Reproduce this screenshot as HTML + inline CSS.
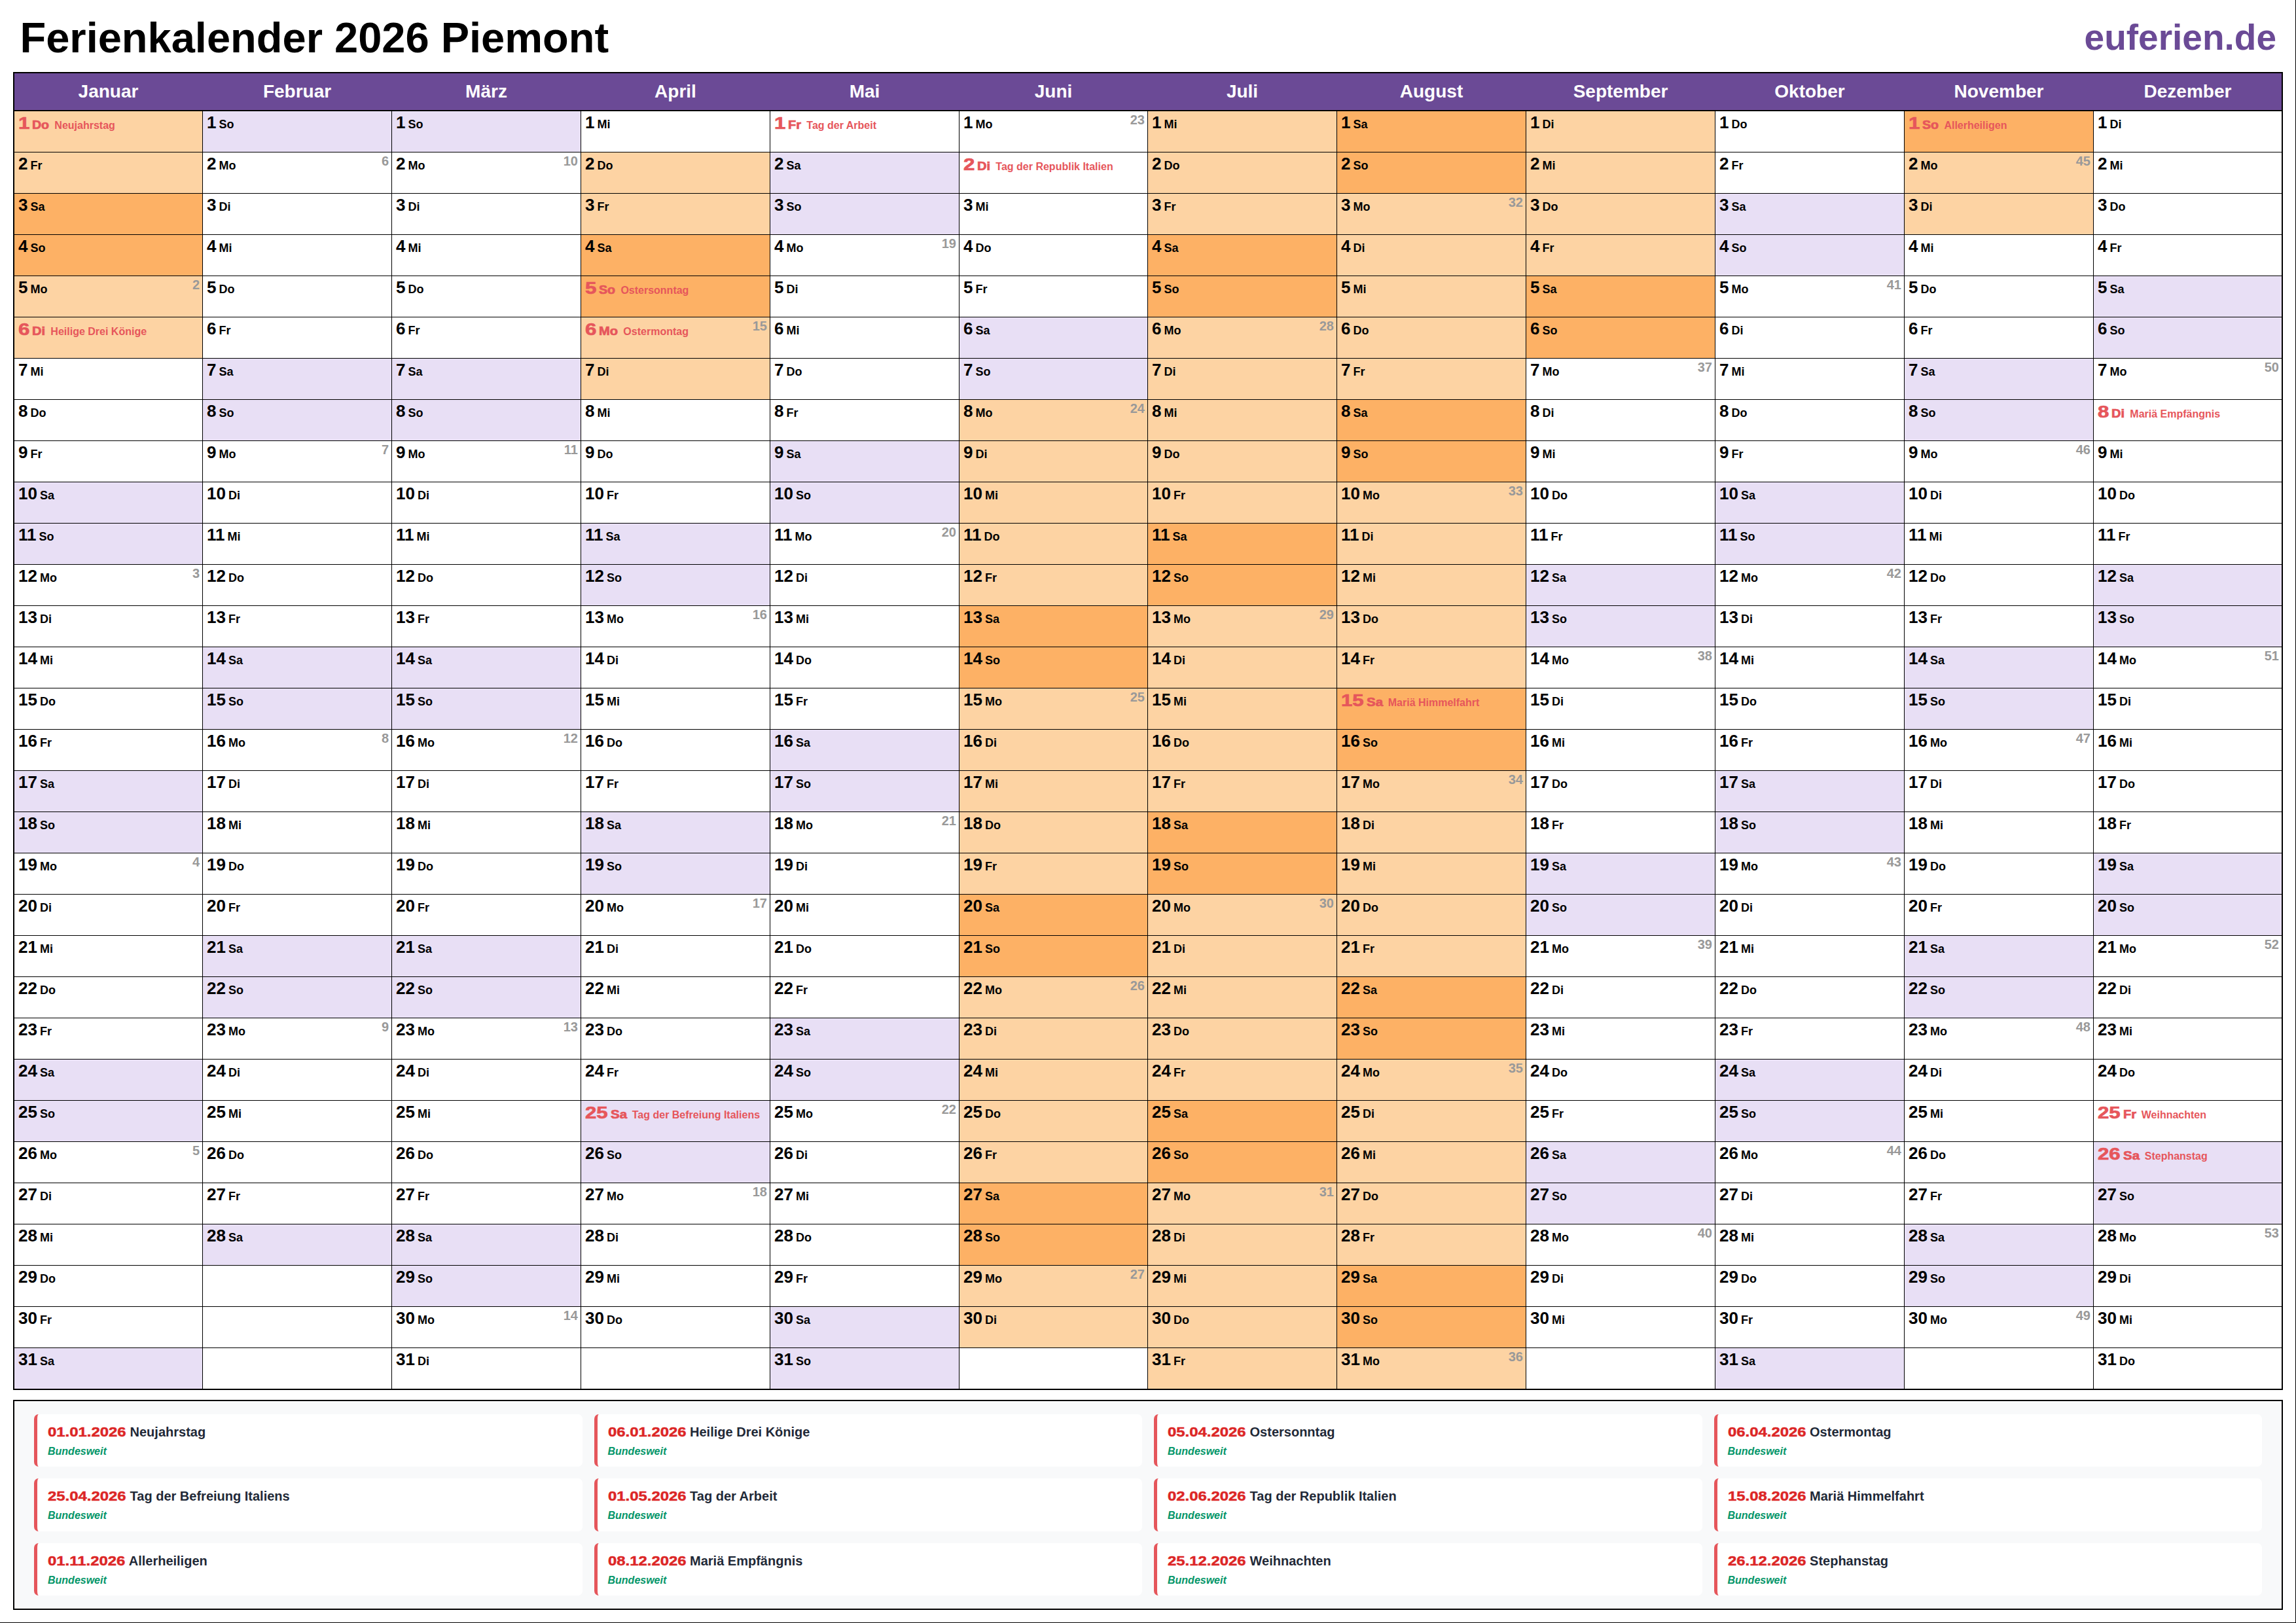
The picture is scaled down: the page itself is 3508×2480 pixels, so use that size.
<!DOCTYPE html><html lang="de"><head><meta charset="utf-8"><title>Ferienkalender 2026 Piemont</title><style>
html,body{margin:0;padding:0;}
body{width:3508px;height:2480px;background:#fff;position:relative;overflow:hidden;font-family:"Liberation Sans",Arial,sans-serif;}
.pb{position:absolute;left:0;top:0;width:3508px;height:2480px;box-sizing:border-box;border-right:1px solid #000;border-bottom:1px solid #000;}
h1{position:absolute;left:30.5px;top:21px;margin:0;font-size:65px;line-height:74px;font-weight:bold;color:#000;white-space:nowrap;}
.brand{position:absolute;right:30px;top:25px;font-size:55px;line-height:64px;font-weight:bold;color:#6b4a96;white-space:nowrap;}
.tbl{position:absolute;left:20px;top:110px;width:3468px;height:2014px;background:#000;}
.hd{position:absolute;left:2px;top:2px;width:3464px;height:56px;background:#6b4a96;box-sizing:border-box;border-bottom:1px solid #7650a0;}
.hd span{position:absolute;top:0;height:56px;line-height:55px;text-align:center;color:#fff;font-weight:bold;font-size:28px;}
.c{position:absolute;height:62px;background:#fff;box-sizing:border-box;padding:2px 0 0 6px;font-size:26px;line-height:30px;font-weight:bold;color:#000;white-space:nowrap;overflow:hidden;}
.c.v{background:#fdd3a3;}
.c.vw{background:#fdb165;}
.c.w{background:#e8dff5;}
.c b{font-size:26px;font-weight:bold;}
.c i{font-style:normal;font-size:18px;margin-left:4px;}
.c u{text-decoration:none;font-size:16px;margin-left:8px;}
.c s{text-decoration:none;position:absolute;right:4px;top:1px;font-size:20px;line-height:24px;font-weight:bold;color:#999;}
.c.h{color:#e6565b;padding-top:3px;}
.c.h b{display:inline-block;transform:scaleX(1.2);transform-origin:0 50%;-webkit-text-stroke:0.7px #e6565b;}
.c.h i{display:inline-block;transform:scaleX(1.1);transform-origin:0 50%;-webkit-text-stroke:0.7px #e6565b;}
.c.h u{margin-left:8px;}
.lg{position:absolute;left:20px;top:2139px;width:3468px;height:321px;box-sizing:border-box;border:2px solid #000;background:#f8f9fa;}
.k{position:absolute;width:837.5px;height:80px;box-sizing:border-box;background:#fff;border-left:5px solid #e5565b;border-radius:7px;padding:11.5px 0 0 16px;white-space:nowrap;}
.k .l1{font-size:20px;line-height:30px;color:#1f2937;font-weight:bold;}
.k .l1 em{display:inline-block;transform:scale(1.195,1.04);transform-origin:0 75%;font-style:normal;font-weight:bold;font-size:20px;color:#dc2626;-webkit-text-stroke:0.45px #dc2626;margin-right:19.9px;}
.k .l2{margin-top:3.5px;font-size:16px;line-height:24px;font-weight:bold;font-style:italic;color:#059669;}
</style></head><body>
<div class="pb"></div>
<h1>Ferienkalender 2026 Piemont</h1><div class="brand">euferien.de</div>
<div class="tbl"><div class="hd">
<span style="left:0px;width:287px">Januar</span>
<span style="left:288px;width:288px">Februar</span>
<span style="left:577px;width:288px">März</span>
<span style="left:866px;width:288px">April</span>
<span style="left:1155px;width:288px">Mai</span>
<span style="left:1444px;width:287px">Juni</span>
<span style="left:1732px;width:288px">Juli</span>
<span style="left:2021px;width:288px">August</span>
<span style="left:2310px;width:288px">September</span>
<span style="left:2599px;width:288px">Oktober</span>
<span style="left:2888px;width:288px">November</span>
<span style="left:3177px;width:287px">Dezember</span>
</div>
<div class="c v h" style="left:2px;top:60px;width:287px"><b style="margin-right:2.9px">1</b><i style="transform:scaleX(1.084);margin-right:2.0px">Do</i><u>Neujahrstag</u></div>
<div class="c v" style="left:2px;top:123px;width:287px"><b>2</b><i>Fr</i></div>
<div class="c vw" style="left:2px;top:186px;width:287px"><b>3</b><i>Sa</i></div>
<div class="c vw" style="left:2px;top:249px;width:287px"><b>4</b><i>So</i></div>
<div class="c v" style="left:2px;top:312px;width:287px"><b>5</b><i>Mo</i><s>2</s></div>
<div class="c v h" style="left:2px;top:375px;width:287px"><b style="margin-right:2.9px">6</b><i style="transform:scaleX(1.111);margin-right:2.0px">Di</i><u>Heilige Drei Könige</u></div>
<div class="c" style="left:2px;top:438px;width:287px"><b>7</b><i>Mi</i></div>
<div class="c" style="left:2px;top:501px;width:287px"><b>8</b><i>Do</i></div>
<div class="c" style="left:2px;top:564px;width:287px"><b>9</b><i>Fr</i></div>
<div class="c w" style="left:2px;top:627px;width:287px"><b>10</b><i>Sa</i></div>
<div class="c w" style="left:2px;top:690px;width:287px"><b>11</b><i>So</i></div>
<div class="c" style="left:2px;top:753px;width:287px"><b>12</b><i>Mo</i><s>3</s></div>
<div class="c" style="left:2px;top:816px;width:287px"><b>13</b><i>Di</i></div>
<div class="c" style="left:2px;top:879px;width:287px"><b>14</b><i>Mi</i></div>
<div class="c" style="left:2px;top:942px;width:287px"><b>15</b><i>Do</i></div>
<div class="c" style="left:2px;top:1005px;width:287px"><b>16</b><i>Fr</i></div>
<div class="c w" style="left:2px;top:1068px;width:287px"><b>17</b><i>Sa</i></div>
<div class="c w" style="left:2px;top:1131px;width:287px"><b>18</b><i>So</i></div>
<div class="c" style="left:2px;top:1194px;width:287px"><b>19</b><i>Mo</i><s>4</s></div>
<div class="c" style="left:2px;top:1257px;width:287px"><b>20</b><i>Di</i></div>
<div class="c" style="left:2px;top:1320px;width:287px"><b>21</b><i>Mi</i></div>
<div class="c" style="left:2px;top:1383px;width:287px"><b>22</b><i>Do</i></div>
<div class="c" style="left:2px;top:1446px;width:287px"><b>23</b><i>Fr</i></div>
<div class="c w" style="left:2px;top:1509px;width:287px"><b>24</b><i>Sa</i></div>
<div class="c w" style="left:2px;top:1572px;width:287px"><b>25</b><i>So</i></div>
<div class="c" style="left:2px;top:1635px;width:287px"><b>26</b><i>Mo</i><s>5</s></div>
<div class="c" style="left:2px;top:1698px;width:287px"><b>27</b><i>Di</i></div>
<div class="c" style="left:2px;top:1761px;width:287px"><b>28</b><i>Mi</i></div>
<div class="c" style="left:2px;top:1824px;width:287px"><b>29</b><i>Do</i></div>
<div class="c" style="left:2px;top:1887px;width:287px"><b>30</b><i>Fr</i></div>
<div class="c w" style="left:2px;top:1950px;width:287px"><b>31</b><i>Sa</i></div>
<div class="c w" style="left:290px;top:60px;width:288px"><b>1</b><i>So</i></div>
<div class="c" style="left:290px;top:123px;width:288px"><b>2</b><i>Mo</i><s>6</s></div>
<div class="c" style="left:290px;top:186px;width:288px"><b>3</b><i>Di</i></div>
<div class="c" style="left:290px;top:249px;width:288px"><b>4</b><i>Mi</i></div>
<div class="c" style="left:290px;top:312px;width:288px"><b>5</b><i>Do</i></div>
<div class="c" style="left:290px;top:375px;width:288px"><b>6</b><i>Fr</i></div>
<div class="c w" style="left:290px;top:438px;width:288px"><b>7</b><i>Sa</i></div>
<div class="c w" style="left:290px;top:501px;width:288px"><b>8</b><i>So</i></div>
<div class="c" style="left:290px;top:564px;width:288px"><b>9</b><i>Mo</i><s>7</s></div>
<div class="c" style="left:290px;top:627px;width:288px"><b>10</b><i>Di</i></div>
<div class="c" style="left:290px;top:690px;width:288px"><b>11</b><i>Mi</i></div>
<div class="c" style="left:290px;top:753px;width:288px"><b>12</b><i>Do</i></div>
<div class="c" style="left:290px;top:816px;width:288px"><b>13</b><i>Fr</i></div>
<div class="c w" style="left:290px;top:879px;width:288px"><b>14</b><i>Sa</i></div>
<div class="c w" style="left:290px;top:942px;width:288px"><b>15</b><i>So</i></div>
<div class="c" style="left:290px;top:1005px;width:288px"><b>16</b><i>Mo</i><s>8</s></div>
<div class="c" style="left:290px;top:1068px;width:288px"><b>17</b><i>Di</i></div>
<div class="c" style="left:290px;top:1131px;width:288px"><b>18</b><i>Mi</i></div>
<div class="c" style="left:290px;top:1194px;width:288px"><b>19</b><i>Do</i></div>
<div class="c" style="left:290px;top:1257px;width:288px"><b>20</b><i>Fr</i></div>
<div class="c w" style="left:290px;top:1320px;width:288px"><b>21</b><i>Sa</i></div>
<div class="c w" style="left:290px;top:1383px;width:288px"><b>22</b><i>So</i></div>
<div class="c" style="left:290px;top:1446px;width:288px"><b>23</b><i>Mo</i><s>9</s></div>
<div class="c" style="left:290px;top:1509px;width:288px"><b>24</b><i>Di</i></div>
<div class="c" style="left:290px;top:1572px;width:288px"><b>25</b><i>Mi</i></div>
<div class="c" style="left:290px;top:1635px;width:288px"><b>26</b><i>Do</i></div>
<div class="c" style="left:290px;top:1698px;width:288px"><b>27</b><i>Fr</i></div>
<div class="c w" style="left:290px;top:1761px;width:288px"><b>28</b><i>Sa</i></div>
<div class="c" style="left:290px;top:1824px;width:288px"></div>
<div class="c" style="left:290px;top:1887px;width:288px"></div>
<div class="c" style="left:290px;top:1950px;width:288px"></div>
<div class="c w" style="left:579px;top:60px;width:288px"><b>1</b><i>So</i></div>
<div class="c" style="left:579px;top:123px;width:288px"><b>2</b><i>Mo</i><s>10</s></div>
<div class="c" style="left:579px;top:186px;width:288px"><b>3</b><i>Di</i></div>
<div class="c" style="left:579px;top:249px;width:288px"><b>4</b><i>Mi</i></div>
<div class="c" style="left:579px;top:312px;width:288px"><b>5</b><i>Do</i></div>
<div class="c" style="left:579px;top:375px;width:288px"><b>6</b><i>Fr</i></div>
<div class="c w" style="left:579px;top:438px;width:288px"><b>7</b><i>Sa</i></div>
<div class="c w" style="left:579px;top:501px;width:288px"><b>8</b><i>So</i></div>
<div class="c" style="left:579px;top:564px;width:288px"><b>9</b><i>Mo</i><s>11</s></div>
<div class="c" style="left:579px;top:627px;width:288px"><b>10</b><i>Di</i></div>
<div class="c" style="left:579px;top:690px;width:288px"><b>11</b><i>Mi</i></div>
<div class="c" style="left:579px;top:753px;width:288px"><b>12</b><i>Do</i></div>
<div class="c" style="left:579px;top:816px;width:288px"><b>13</b><i>Fr</i></div>
<div class="c w" style="left:579px;top:879px;width:288px"><b>14</b><i>Sa</i></div>
<div class="c w" style="left:579px;top:942px;width:288px"><b>15</b><i>So</i></div>
<div class="c" style="left:579px;top:1005px;width:288px"><b>16</b><i>Mo</i><s>12</s></div>
<div class="c" style="left:579px;top:1068px;width:288px"><b>17</b><i>Di</i></div>
<div class="c" style="left:579px;top:1131px;width:288px"><b>18</b><i>Mi</i></div>
<div class="c" style="left:579px;top:1194px;width:288px"><b>19</b><i>Do</i></div>
<div class="c" style="left:579px;top:1257px;width:288px"><b>20</b><i>Fr</i></div>
<div class="c w" style="left:579px;top:1320px;width:288px"><b>21</b><i>Sa</i></div>
<div class="c w" style="left:579px;top:1383px;width:288px"><b>22</b><i>So</i></div>
<div class="c" style="left:579px;top:1446px;width:288px"><b>23</b><i>Mo</i><s>13</s></div>
<div class="c" style="left:579px;top:1509px;width:288px"><b>24</b><i>Di</i></div>
<div class="c" style="left:579px;top:1572px;width:288px"><b>25</b><i>Mi</i></div>
<div class="c" style="left:579px;top:1635px;width:288px"><b>26</b><i>Do</i></div>
<div class="c" style="left:579px;top:1698px;width:288px"><b>27</b><i>Fr</i></div>
<div class="c w" style="left:579px;top:1761px;width:288px"><b>28</b><i>Sa</i></div>
<div class="c w" style="left:579px;top:1824px;width:288px"><b>29</b><i>So</i></div>
<div class="c" style="left:579px;top:1887px;width:288px"><b>30</b><i>Mo</i><s>14</s></div>
<div class="c" style="left:579px;top:1950px;width:288px"><b>31</b><i>Di</i></div>
<div class="c" style="left:868px;top:60px;width:288px"><b>1</b><i>Mi</i></div>
<div class="c v" style="left:868px;top:123px;width:288px"><b>2</b><i>Do</i></div>
<div class="c v" style="left:868px;top:186px;width:288px"><b>3</b><i>Fr</i></div>
<div class="c vw" style="left:868px;top:249px;width:288px"><b>4</b><i>Sa</i></div>
<div class="c vw h" style="left:868px;top:312px;width:288px"><b style="margin-right:2.9px">5</b><i style="transform:scaleX(1.087);margin-right:2.0px">So</i><u>Ostersonntag</u></div>
<div class="c v h" style="left:868px;top:375px;width:288px"><b style="margin-right:2.9px">6</b><i style="transform:scaleX(1.116);margin-right:3.0px">Mo</i><u>Ostermontag</u><s>15</s></div>
<div class="c v" style="left:868px;top:438px;width:288px"><b>7</b><i>Di</i></div>
<div class="c" style="left:868px;top:501px;width:288px"><b>8</b><i>Mi</i></div>
<div class="c" style="left:868px;top:564px;width:288px"><b>9</b><i>Do</i></div>
<div class="c" style="left:868px;top:627px;width:288px"><b>10</b><i>Fr</i></div>
<div class="c w" style="left:868px;top:690px;width:288px"><b>11</b><i>Sa</i></div>
<div class="c w" style="left:868px;top:753px;width:288px"><b>12</b><i>So</i></div>
<div class="c" style="left:868px;top:816px;width:288px"><b>13</b><i>Mo</i><s>16</s></div>
<div class="c" style="left:868px;top:879px;width:288px"><b>14</b><i>Di</i></div>
<div class="c" style="left:868px;top:942px;width:288px"><b>15</b><i>Mi</i></div>
<div class="c" style="left:868px;top:1005px;width:288px"><b>16</b><i>Do</i></div>
<div class="c" style="left:868px;top:1068px;width:288px"><b>17</b><i>Fr</i></div>
<div class="c w" style="left:868px;top:1131px;width:288px"><b>18</b><i>Sa</i></div>
<div class="c w" style="left:868px;top:1194px;width:288px"><b>19</b><i>So</i></div>
<div class="c" style="left:868px;top:1257px;width:288px"><b>20</b><i>Mo</i><s>17</s></div>
<div class="c" style="left:868px;top:1320px;width:288px"><b>21</b><i>Di</i></div>
<div class="c" style="left:868px;top:1383px;width:288px"><b>22</b><i>Mi</i></div>
<div class="c" style="left:868px;top:1446px;width:288px"><b>23</b><i>Do</i></div>
<div class="c" style="left:868px;top:1509px;width:288px"><b>24</b><i>Fr</i></div>
<div class="c w h" style="left:868px;top:1572px;width:288px"><b style="margin-right:5.8px">25</b><i style="transform:scaleX(1.136);margin-right:3.0px">Sa</i><u>Tag der Befreiung Italiens</u></div>
<div class="c w" style="left:868px;top:1635px;width:288px"><b>26</b><i>So</i></div>
<div class="c" style="left:868px;top:1698px;width:288px"><b>27</b><i>Mo</i><s>18</s></div>
<div class="c" style="left:868px;top:1761px;width:288px"><b>28</b><i>Di</i></div>
<div class="c" style="left:868px;top:1824px;width:288px"><b>29</b><i>Mi</i></div>
<div class="c" style="left:868px;top:1887px;width:288px"><b>30</b><i>Do</i></div>
<div class="c" style="left:868px;top:1950px;width:288px"></div>
<div class="c h" style="left:1157px;top:60px;width:288px"><b style="margin-right:2.9px">1</b><i style="transform:scaleX(1.111);margin-right:2.0px">Fr</i><u>Tag der Arbeit</u></div>
<div class="c w" style="left:1157px;top:123px;width:288px"><b>2</b><i>Sa</i></div>
<div class="c w" style="left:1157px;top:186px;width:288px"><b>3</b><i>So</i></div>
<div class="c" style="left:1157px;top:249px;width:288px"><b>4</b><i>Mo</i><s>19</s></div>
<div class="c" style="left:1157px;top:312px;width:288px"><b>5</b><i>Di</i></div>
<div class="c" style="left:1157px;top:375px;width:288px"><b>6</b><i>Mi</i></div>
<div class="c" style="left:1157px;top:438px;width:288px"><b>7</b><i>Do</i></div>
<div class="c" style="left:1157px;top:501px;width:288px"><b>8</b><i>Fr</i></div>
<div class="c w" style="left:1157px;top:564px;width:288px"><b>9</b><i>Sa</i></div>
<div class="c w" style="left:1157px;top:627px;width:288px"><b>10</b><i>So</i></div>
<div class="c" style="left:1157px;top:690px;width:288px"><b>11</b><i>Mo</i><s>20</s></div>
<div class="c" style="left:1157px;top:753px;width:288px"><b>12</b><i>Di</i></div>
<div class="c" style="left:1157px;top:816px;width:288px"><b>13</b><i>Mi</i></div>
<div class="c" style="left:1157px;top:879px;width:288px"><b>14</b><i>Do</i></div>
<div class="c" style="left:1157px;top:942px;width:288px"><b>15</b><i>Fr</i></div>
<div class="c w" style="left:1157px;top:1005px;width:288px"><b>16</b><i>Sa</i></div>
<div class="c w" style="left:1157px;top:1068px;width:288px"><b>17</b><i>So</i></div>
<div class="c" style="left:1157px;top:1131px;width:288px"><b>18</b><i>Mo</i><s>21</s></div>
<div class="c" style="left:1157px;top:1194px;width:288px"><b>19</b><i>Di</i></div>
<div class="c" style="left:1157px;top:1257px;width:288px"><b>20</b><i>Mi</i></div>
<div class="c" style="left:1157px;top:1320px;width:288px"><b>21</b><i>Do</i></div>
<div class="c" style="left:1157px;top:1383px;width:288px"><b>22</b><i>Fr</i></div>
<div class="c w" style="left:1157px;top:1446px;width:288px"><b>23</b><i>Sa</i></div>
<div class="c w" style="left:1157px;top:1509px;width:288px"><b>24</b><i>So</i></div>
<div class="c" style="left:1157px;top:1572px;width:288px"><b>25</b><i>Mo</i><s>22</s></div>
<div class="c" style="left:1157px;top:1635px;width:288px"><b>26</b><i>Di</i></div>
<div class="c" style="left:1157px;top:1698px;width:288px"><b>27</b><i>Mi</i></div>
<div class="c" style="left:1157px;top:1761px;width:288px"><b>28</b><i>Do</i></div>
<div class="c" style="left:1157px;top:1824px;width:288px"><b>29</b><i>Fr</i></div>
<div class="c w" style="left:1157px;top:1887px;width:288px"><b>30</b><i>Sa</i></div>
<div class="c w" style="left:1157px;top:1950px;width:288px"><b>31</b><i>So</i></div>
<div class="c" style="left:1446px;top:60px;width:287px"><b>1</b><i>Mo</i><s>23</s></div>
<div class="c h" style="left:1446px;top:123px;width:287px"><b style="margin-right:2.9px">2</b><i style="transform:scaleX(1.111);margin-right:2.0px">Di</i><u>Tag der Republik Italien</u></div>
<div class="c" style="left:1446px;top:186px;width:287px"><b>3</b><i>Mi</i></div>
<div class="c" style="left:1446px;top:249px;width:287px"><b>4</b><i>Do</i></div>
<div class="c" style="left:1446px;top:312px;width:287px"><b>5</b><i>Fr</i></div>
<div class="c w" style="left:1446px;top:375px;width:287px"><b>6</b><i>Sa</i></div>
<div class="c w" style="left:1446px;top:438px;width:287px"><b>7</b><i>So</i></div>
<div class="c v" style="left:1446px;top:501px;width:287px"><b>8</b><i>Mo</i><s>24</s></div>
<div class="c v" style="left:1446px;top:564px;width:287px"><b>9</b><i>Di</i></div>
<div class="c v" style="left:1446px;top:627px;width:287px"><b>10</b><i>Mi</i></div>
<div class="c v" style="left:1446px;top:690px;width:287px"><b>11</b><i>Do</i></div>
<div class="c v" style="left:1446px;top:753px;width:287px"><b>12</b><i>Fr</i></div>
<div class="c vw" style="left:1446px;top:816px;width:287px"><b>13</b><i>Sa</i></div>
<div class="c vw" style="left:1446px;top:879px;width:287px"><b>14</b><i>So</i></div>
<div class="c v" style="left:1446px;top:942px;width:287px"><b>15</b><i>Mo</i><s>25</s></div>
<div class="c v" style="left:1446px;top:1005px;width:287px"><b>16</b><i>Di</i></div>
<div class="c v" style="left:1446px;top:1068px;width:287px"><b>17</b><i>Mi</i></div>
<div class="c v" style="left:1446px;top:1131px;width:287px"><b>18</b><i>Do</i></div>
<div class="c v" style="left:1446px;top:1194px;width:287px"><b>19</b><i>Fr</i></div>
<div class="c vw" style="left:1446px;top:1257px;width:287px"><b>20</b><i>Sa</i></div>
<div class="c vw" style="left:1446px;top:1320px;width:287px"><b>21</b><i>So</i></div>
<div class="c v" style="left:1446px;top:1383px;width:287px"><b>22</b><i>Mo</i><s>26</s></div>
<div class="c v" style="left:1446px;top:1446px;width:287px"><b>23</b><i>Di</i></div>
<div class="c v" style="left:1446px;top:1509px;width:287px"><b>24</b><i>Mi</i></div>
<div class="c v" style="left:1446px;top:1572px;width:287px"><b>25</b><i>Do</i></div>
<div class="c v" style="left:1446px;top:1635px;width:287px"><b>26</b><i>Fr</i></div>
<div class="c vw" style="left:1446px;top:1698px;width:287px"><b>27</b><i>Sa</i></div>
<div class="c vw" style="left:1446px;top:1761px;width:287px"><b>28</b><i>So</i></div>
<div class="c v" style="left:1446px;top:1824px;width:287px"><b>29</b><i>Mo</i><s>27</s></div>
<div class="c v" style="left:1446px;top:1887px;width:287px"><b>30</b><i>Di</i></div>
<div class="c" style="left:1446px;top:1950px;width:287px"></div>
<div class="c v" style="left:1734px;top:60px;width:288px"><b>1</b><i>Mi</i></div>
<div class="c v" style="left:1734px;top:123px;width:288px"><b>2</b><i>Do</i></div>
<div class="c v" style="left:1734px;top:186px;width:288px"><b>3</b><i>Fr</i></div>
<div class="c vw" style="left:1734px;top:249px;width:288px"><b>4</b><i>Sa</i></div>
<div class="c vw" style="left:1734px;top:312px;width:288px"><b>5</b><i>So</i></div>
<div class="c v" style="left:1734px;top:375px;width:288px"><b>6</b><i>Mo</i><s>28</s></div>
<div class="c v" style="left:1734px;top:438px;width:288px"><b>7</b><i>Di</i></div>
<div class="c v" style="left:1734px;top:501px;width:288px"><b>8</b><i>Mi</i></div>
<div class="c v" style="left:1734px;top:564px;width:288px"><b>9</b><i>Do</i></div>
<div class="c v" style="left:1734px;top:627px;width:288px"><b>10</b><i>Fr</i></div>
<div class="c vw" style="left:1734px;top:690px;width:288px"><b>11</b><i>Sa</i></div>
<div class="c vw" style="left:1734px;top:753px;width:288px"><b>12</b><i>So</i></div>
<div class="c v" style="left:1734px;top:816px;width:288px"><b>13</b><i>Mo</i><s>29</s></div>
<div class="c v" style="left:1734px;top:879px;width:288px"><b>14</b><i>Di</i></div>
<div class="c v" style="left:1734px;top:942px;width:288px"><b>15</b><i>Mi</i></div>
<div class="c v" style="left:1734px;top:1005px;width:288px"><b>16</b><i>Do</i></div>
<div class="c v" style="left:1734px;top:1068px;width:288px"><b>17</b><i>Fr</i></div>
<div class="c vw" style="left:1734px;top:1131px;width:288px"><b>18</b><i>Sa</i></div>
<div class="c vw" style="left:1734px;top:1194px;width:288px"><b>19</b><i>So</i></div>
<div class="c v" style="left:1734px;top:1257px;width:288px"><b>20</b><i>Mo</i><s>30</s></div>
<div class="c v" style="left:1734px;top:1320px;width:288px"><b>21</b><i>Di</i></div>
<div class="c v" style="left:1734px;top:1383px;width:288px"><b>22</b><i>Mi</i></div>
<div class="c v" style="left:1734px;top:1446px;width:288px"><b>23</b><i>Do</i></div>
<div class="c v" style="left:1734px;top:1509px;width:288px"><b>24</b><i>Fr</i></div>
<div class="c vw" style="left:1734px;top:1572px;width:288px"><b>25</b><i>Sa</i></div>
<div class="c vw" style="left:1734px;top:1635px;width:288px"><b>26</b><i>So</i></div>
<div class="c v" style="left:1734px;top:1698px;width:288px"><b>27</b><i>Mo</i><s>31</s></div>
<div class="c v" style="left:1734px;top:1761px;width:288px"><b>28</b><i>Di</i></div>
<div class="c v" style="left:1734px;top:1824px;width:288px"><b>29</b><i>Mi</i></div>
<div class="c v" style="left:1734px;top:1887px;width:288px"><b>30</b><i>Do</i></div>
<div class="c v" style="left:1734px;top:1950px;width:288px"><b>31</b><i>Fr</i></div>
<div class="c vw" style="left:2023px;top:60px;width:288px"><b>1</b><i>Sa</i></div>
<div class="c vw" style="left:2023px;top:123px;width:288px"><b>2</b><i>So</i></div>
<div class="c v" style="left:2023px;top:186px;width:288px"><b>3</b><i>Mo</i><s>32</s></div>
<div class="c v" style="left:2023px;top:249px;width:288px"><b>4</b><i>Di</i></div>
<div class="c v" style="left:2023px;top:312px;width:288px"><b>5</b><i>Mi</i></div>
<div class="c v" style="left:2023px;top:375px;width:288px"><b>6</b><i>Do</i></div>
<div class="c v" style="left:2023px;top:438px;width:288px"><b>7</b><i>Fr</i></div>
<div class="c vw" style="left:2023px;top:501px;width:288px"><b>8</b><i>Sa</i></div>
<div class="c vw" style="left:2023px;top:564px;width:288px"><b>9</b><i>So</i></div>
<div class="c v" style="left:2023px;top:627px;width:288px"><b>10</b><i>Mo</i><s>33</s></div>
<div class="c v" style="left:2023px;top:690px;width:288px"><b>11</b><i>Di</i></div>
<div class="c v" style="left:2023px;top:753px;width:288px"><b>12</b><i>Mi</i></div>
<div class="c v" style="left:2023px;top:816px;width:288px"><b>13</b><i>Do</i></div>
<div class="c v" style="left:2023px;top:879px;width:288px"><b>14</b><i>Fr</i></div>
<div class="c vw h" style="left:2023px;top:942px;width:288px"><b style="margin-right:5.8px">15</b><i style="transform:scaleX(1.136);margin-right:3.0px">Sa</i><u>Mariä Himmelfahrt</u></div>
<div class="c vw" style="left:2023px;top:1005px;width:288px"><b>16</b><i>So</i></div>
<div class="c v" style="left:2023px;top:1068px;width:288px"><b>17</b><i>Mo</i><s>34</s></div>
<div class="c v" style="left:2023px;top:1131px;width:288px"><b>18</b><i>Di</i></div>
<div class="c v" style="left:2023px;top:1194px;width:288px"><b>19</b><i>Mi</i></div>
<div class="c v" style="left:2023px;top:1257px;width:288px"><b>20</b><i>Do</i></div>
<div class="c v" style="left:2023px;top:1320px;width:288px"><b>21</b><i>Fr</i></div>
<div class="c vw" style="left:2023px;top:1383px;width:288px"><b>22</b><i>Sa</i></div>
<div class="c vw" style="left:2023px;top:1446px;width:288px"><b>23</b><i>So</i></div>
<div class="c v" style="left:2023px;top:1509px;width:288px"><b>24</b><i>Mo</i><s>35</s></div>
<div class="c v" style="left:2023px;top:1572px;width:288px"><b>25</b><i>Di</i></div>
<div class="c v" style="left:2023px;top:1635px;width:288px"><b>26</b><i>Mi</i></div>
<div class="c v" style="left:2023px;top:1698px;width:288px"><b>27</b><i>Do</i></div>
<div class="c v" style="left:2023px;top:1761px;width:288px"><b>28</b><i>Fr</i></div>
<div class="c vw" style="left:2023px;top:1824px;width:288px"><b>29</b><i>Sa</i></div>
<div class="c vw" style="left:2023px;top:1887px;width:288px"><b>30</b><i>So</i></div>
<div class="c v" style="left:2023px;top:1950px;width:288px"><b>31</b><i>Mo</i><s>36</s></div>
<div class="c v" style="left:2312px;top:60px;width:288px"><b>1</b><i>Di</i></div>
<div class="c v" style="left:2312px;top:123px;width:288px"><b>2</b><i>Mi</i></div>
<div class="c v" style="left:2312px;top:186px;width:288px"><b>3</b><i>Do</i></div>
<div class="c v" style="left:2312px;top:249px;width:288px"><b>4</b><i>Fr</i></div>
<div class="c vw" style="left:2312px;top:312px;width:288px"><b>5</b><i>Sa</i></div>
<div class="c vw" style="left:2312px;top:375px;width:288px"><b>6</b><i>So</i></div>
<div class="c" style="left:2312px;top:438px;width:288px"><b>7</b><i>Mo</i><s>37</s></div>
<div class="c" style="left:2312px;top:501px;width:288px"><b>8</b><i>Di</i></div>
<div class="c" style="left:2312px;top:564px;width:288px"><b>9</b><i>Mi</i></div>
<div class="c" style="left:2312px;top:627px;width:288px"><b>10</b><i>Do</i></div>
<div class="c" style="left:2312px;top:690px;width:288px"><b>11</b><i>Fr</i></div>
<div class="c w" style="left:2312px;top:753px;width:288px"><b>12</b><i>Sa</i></div>
<div class="c w" style="left:2312px;top:816px;width:288px"><b>13</b><i>So</i></div>
<div class="c" style="left:2312px;top:879px;width:288px"><b>14</b><i>Mo</i><s>38</s></div>
<div class="c" style="left:2312px;top:942px;width:288px"><b>15</b><i>Di</i></div>
<div class="c" style="left:2312px;top:1005px;width:288px"><b>16</b><i>Mi</i></div>
<div class="c" style="left:2312px;top:1068px;width:288px"><b>17</b><i>Do</i></div>
<div class="c" style="left:2312px;top:1131px;width:288px"><b>18</b><i>Fr</i></div>
<div class="c w" style="left:2312px;top:1194px;width:288px"><b>19</b><i>Sa</i></div>
<div class="c w" style="left:2312px;top:1257px;width:288px"><b>20</b><i>So</i></div>
<div class="c" style="left:2312px;top:1320px;width:288px"><b>21</b><i>Mo</i><s>39</s></div>
<div class="c" style="left:2312px;top:1383px;width:288px"><b>22</b><i>Di</i></div>
<div class="c" style="left:2312px;top:1446px;width:288px"><b>23</b><i>Mi</i></div>
<div class="c" style="left:2312px;top:1509px;width:288px"><b>24</b><i>Do</i></div>
<div class="c" style="left:2312px;top:1572px;width:288px"><b>25</b><i>Fr</i></div>
<div class="c w" style="left:2312px;top:1635px;width:288px"><b>26</b><i>Sa</i></div>
<div class="c w" style="left:2312px;top:1698px;width:288px"><b>27</b><i>So</i></div>
<div class="c" style="left:2312px;top:1761px;width:288px"><b>28</b><i>Mo</i><s>40</s></div>
<div class="c" style="left:2312px;top:1824px;width:288px"><b>29</b><i>Di</i></div>
<div class="c" style="left:2312px;top:1887px;width:288px"><b>30</b><i>Mi</i></div>
<div class="c" style="left:2312px;top:1950px;width:288px"></div>
<div class="c" style="left:2601px;top:60px;width:288px"><b>1</b><i>Do</i></div>
<div class="c" style="left:2601px;top:123px;width:288px"><b>2</b><i>Fr</i></div>
<div class="c w" style="left:2601px;top:186px;width:288px"><b>3</b><i>Sa</i></div>
<div class="c w" style="left:2601px;top:249px;width:288px"><b>4</b><i>So</i></div>
<div class="c" style="left:2601px;top:312px;width:288px"><b>5</b><i>Mo</i><s>41</s></div>
<div class="c" style="left:2601px;top:375px;width:288px"><b>6</b><i>Di</i></div>
<div class="c" style="left:2601px;top:438px;width:288px"><b>7</b><i>Mi</i></div>
<div class="c" style="left:2601px;top:501px;width:288px"><b>8</b><i>Do</i></div>
<div class="c" style="left:2601px;top:564px;width:288px"><b>9</b><i>Fr</i></div>
<div class="c w" style="left:2601px;top:627px;width:288px"><b>10</b><i>Sa</i></div>
<div class="c w" style="left:2601px;top:690px;width:288px"><b>11</b><i>So</i></div>
<div class="c" style="left:2601px;top:753px;width:288px"><b>12</b><i>Mo</i><s>42</s></div>
<div class="c" style="left:2601px;top:816px;width:288px"><b>13</b><i>Di</i></div>
<div class="c" style="left:2601px;top:879px;width:288px"><b>14</b><i>Mi</i></div>
<div class="c" style="left:2601px;top:942px;width:288px"><b>15</b><i>Do</i></div>
<div class="c" style="left:2601px;top:1005px;width:288px"><b>16</b><i>Fr</i></div>
<div class="c w" style="left:2601px;top:1068px;width:288px"><b>17</b><i>Sa</i></div>
<div class="c w" style="left:2601px;top:1131px;width:288px"><b>18</b><i>So</i></div>
<div class="c" style="left:2601px;top:1194px;width:288px"><b>19</b><i>Mo</i><s>43</s></div>
<div class="c" style="left:2601px;top:1257px;width:288px"><b>20</b><i>Di</i></div>
<div class="c" style="left:2601px;top:1320px;width:288px"><b>21</b><i>Mi</i></div>
<div class="c" style="left:2601px;top:1383px;width:288px"><b>22</b><i>Do</i></div>
<div class="c" style="left:2601px;top:1446px;width:288px"><b>23</b><i>Fr</i></div>
<div class="c w" style="left:2601px;top:1509px;width:288px"><b>24</b><i>Sa</i></div>
<div class="c w" style="left:2601px;top:1572px;width:288px"><b>25</b><i>So</i></div>
<div class="c" style="left:2601px;top:1635px;width:288px"><b>26</b><i>Mo</i><s>44</s></div>
<div class="c" style="left:2601px;top:1698px;width:288px"><b>27</b><i>Di</i></div>
<div class="c" style="left:2601px;top:1761px;width:288px"><b>28</b><i>Mi</i></div>
<div class="c" style="left:2601px;top:1824px;width:288px"><b>29</b><i>Do</i></div>
<div class="c" style="left:2601px;top:1887px;width:288px"><b>30</b><i>Fr</i></div>
<div class="c w" style="left:2601px;top:1950px;width:288px"><b>31</b><i>Sa</i></div>
<div class="c vw h" style="left:2890px;top:60px;width:288px"><b style="margin-right:2.9px">1</b><i style="transform:scaleX(1.087);margin-right:2.0px">So</i><u>Allerheiligen</u></div>
<div class="c v" style="left:2890px;top:123px;width:288px"><b>2</b><i>Mo</i><s>45</s></div>
<div class="c v" style="left:2890px;top:186px;width:288px"><b>3</b><i>Di</i></div>
<div class="c" style="left:2890px;top:249px;width:288px"><b>4</b><i>Mi</i></div>
<div class="c" style="left:2890px;top:312px;width:288px"><b>5</b><i>Do</i></div>
<div class="c" style="left:2890px;top:375px;width:288px"><b>6</b><i>Fr</i></div>
<div class="c w" style="left:2890px;top:438px;width:288px"><b>7</b><i>Sa</i></div>
<div class="c w" style="left:2890px;top:501px;width:288px"><b>8</b><i>So</i></div>
<div class="c" style="left:2890px;top:564px;width:288px"><b>9</b><i>Mo</i><s>46</s></div>
<div class="c" style="left:2890px;top:627px;width:288px"><b>10</b><i>Di</i></div>
<div class="c" style="left:2890px;top:690px;width:288px"><b>11</b><i>Mi</i></div>
<div class="c" style="left:2890px;top:753px;width:288px"><b>12</b><i>Do</i></div>
<div class="c" style="left:2890px;top:816px;width:288px"><b>13</b><i>Fr</i></div>
<div class="c w" style="left:2890px;top:879px;width:288px"><b>14</b><i>Sa</i></div>
<div class="c w" style="left:2890px;top:942px;width:288px"><b>15</b><i>So</i></div>
<div class="c" style="left:2890px;top:1005px;width:288px"><b>16</b><i>Mo</i><s>47</s></div>
<div class="c" style="left:2890px;top:1068px;width:288px"><b>17</b><i>Di</i></div>
<div class="c" style="left:2890px;top:1131px;width:288px"><b>18</b><i>Mi</i></div>
<div class="c" style="left:2890px;top:1194px;width:288px"><b>19</b><i>Do</i></div>
<div class="c" style="left:2890px;top:1257px;width:288px"><b>20</b><i>Fr</i></div>
<div class="c w" style="left:2890px;top:1320px;width:288px"><b>21</b><i>Sa</i></div>
<div class="c w" style="left:2890px;top:1383px;width:288px"><b>22</b><i>So</i></div>
<div class="c" style="left:2890px;top:1446px;width:288px"><b>23</b><i>Mo</i><s>48</s></div>
<div class="c" style="left:2890px;top:1509px;width:288px"><b>24</b><i>Di</i></div>
<div class="c" style="left:2890px;top:1572px;width:288px"><b>25</b><i>Mi</i></div>
<div class="c" style="left:2890px;top:1635px;width:288px"><b>26</b><i>Do</i></div>
<div class="c" style="left:2890px;top:1698px;width:288px"><b>27</b><i>Fr</i></div>
<div class="c w" style="left:2890px;top:1761px;width:288px"><b>28</b><i>Sa</i></div>
<div class="c w" style="left:2890px;top:1824px;width:288px"><b>29</b><i>So</i></div>
<div class="c" style="left:2890px;top:1887px;width:288px"><b>30</b><i>Mo</i><s>49</s></div>
<div class="c" style="left:2890px;top:1950px;width:288px"></div>
<div class="c" style="left:3179px;top:60px;width:287px"><b>1</b><i>Di</i></div>
<div class="c" style="left:3179px;top:123px;width:287px"><b>2</b><i>Mi</i></div>
<div class="c" style="left:3179px;top:186px;width:287px"><b>3</b><i>Do</i></div>
<div class="c" style="left:3179px;top:249px;width:287px"><b>4</b><i>Fr</i></div>
<div class="c w" style="left:3179px;top:312px;width:287px"><b>5</b><i>Sa</i></div>
<div class="c w" style="left:3179px;top:375px;width:287px"><b>6</b><i>So</i></div>
<div class="c" style="left:3179px;top:438px;width:287px"><b>7</b><i>Mo</i><s>50</s></div>
<div class="c h" style="left:3179px;top:501px;width:287px"><b style="margin-right:2.9px">8</b><i style="transform:scaleX(1.111);margin-right:2.0px">Di</i><u>Mariä Empfängnis</u></div>
<div class="c" style="left:3179px;top:564px;width:287px"><b>9</b><i>Mi</i></div>
<div class="c" style="left:3179px;top:627px;width:287px"><b>10</b><i>Do</i></div>
<div class="c" style="left:3179px;top:690px;width:287px"><b>11</b><i>Fr</i></div>
<div class="c w" style="left:3179px;top:753px;width:287px"><b>12</b><i>Sa</i></div>
<div class="c w" style="left:3179px;top:816px;width:287px"><b>13</b><i>So</i></div>
<div class="c" style="left:3179px;top:879px;width:287px"><b>14</b><i>Mo</i><s>51</s></div>
<div class="c" style="left:3179px;top:942px;width:287px"><b>15</b><i>Di</i></div>
<div class="c" style="left:3179px;top:1005px;width:287px"><b>16</b><i>Mi</i></div>
<div class="c" style="left:3179px;top:1068px;width:287px"><b>17</b><i>Do</i></div>
<div class="c" style="left:3179px;top:1131px;width:287px"><b>18</b><i>Fr</i></div>
<div class="c w" style="left:3179px;top:1194px;width:287px"><b>19</b><i>Sa</i></div>
<div class="c w" style="left:3179px;top:1257px;width:287px"><b>20</b><i>So</i></div>
<div class="c" style="left:3179px;top:1320px;width:287px"><b>21</b><i>Mo</i><s>52</s></div>
<div class="c" style="left:3179px;top:1383px;width:287px"><b>22</b><i>Di</i></div>
<div class="c" style="left:3179px;top:1446px;width:287px"><b>23</b><i>Mi</i></div>
<div class="c" style="left:3179px;top:1509px;width:287px"><b>24</b><i>Do</i></div>
<div class="c h" style="left:3179px;top:1572px;width:287px"><b style="margin-right:5.8px">25</b><i style="transform:scaleX(1.111);margin-right:2.0px">Fr</i><u>Weihnachten</u></div>
<div class="c w h" style="left:3179px;top:1635px;width:287px"><b style="margin-right:5.8px">26</b><i style="transform:scaleX(1.136);margin-right:3.0px">Sa</i><u>Stephanstag</u></div>
<div class="c w" style="left:3179px;top:1698px;width:287px"><b>27</b><i>So</i></div>
<div class="c" style="left:3179px;top:1761px;width:287px"><b>28</b><i>Mo</i><s>53</s></div>
<div class="c" style="left:3179px;top:1824px;width:287px"><b>29</b><i>Di</i></div>
<div class="c" style="left:3179px;top:1887px;width:287px"><b>30</b><i>Mi</i></div>
<div class="c" style="left:3179px;top:1950px;width:287px"><b>31</b><i>Do</i></div>
</div>
<div class="lg">
<div class="k" style="left:30.0px;top:20px"><div class="l1"><em>01.01.2026</em> Neujahrstag</div><div class="l2">Bundesweit</div></div>
<div class="k" style="left:885.5px;top:20px"><div class="l1"><em>06.01.2026</em> Heilige Drei Könige</div><div class="l2">Bundesweit</div></div>
<div class="k" style="left:1741.0px;top:20px"><div class="l1"><em>05.04.2026</em> Ostersonntag</div><div class="l2">Bundesweit</div></div>
<div class="k" style="left:2596.5px;top:20px"><div class="l1"><em>06.04.2026</em> Ostermontag</div><div class="l2">Bundesweit</div></div>
<div class="k" style="left:30.0px;top:118px;height:81px"><div class="l1"><em>25.04.2026</em> Tag der Befreiung Italiens</div><div class="l2">Bundesweit</div></div>
<div class="k" style="left:885.5px;top:118px;height:81px"><div class="l1"><em>01.05.2026</em> Tag der Arbeit</div><div class="l2">Bundesweit</div></div>
<div class="k" style="left:1741.0px;top:118px;height:81px"><div class="l1"><em>02.06.2026</em> Tag der Republik Italien</div><div class="l2">Bundesweit</div></div>
<div class="k" style="left:2596.5px;top:118px;height:81px"><div class="l1"><em>15.08.2026</em> Mariä Himmelfahrt</div><div class="l2">Bundesweit</div></div>
<div class="k" style="left:30.0px;top:217px"><div class="l1"><em>01.11.2026</em> Allerheiligen</div><div class="l2">Bundesweit</div></div>
<div class="k" style="left:885.5px;top:217px"><div class="l1"><em>08.12.2026</em> Mariä Empfängnis</div><div class="l2">Bundesweit</div></div>
<div class="k" style="left:1741.0px;top:217px"><div class="l1"><em>25.12.2026</em> Weihnachten</div><div class="l2">Bundesweit</div></div>
<div class="k" style="left:2596.5px;top:217px"><div class="l1"><em>26.12.2026</em> Stephanstag</div><div class="l2">Bundesweit</div></div>
</div></body></html>
